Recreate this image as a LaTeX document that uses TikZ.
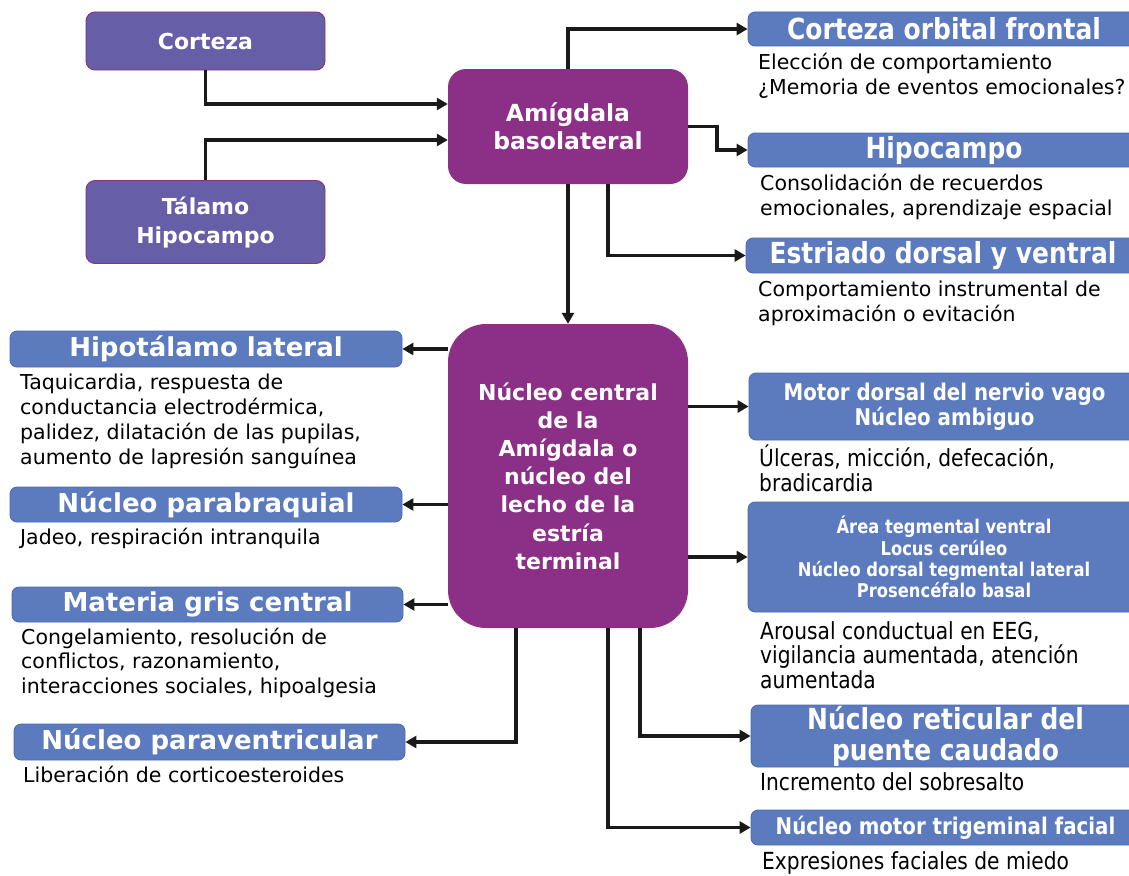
\documentclass[tikz,border=0pt]{standalone}
\usepackage{fontspec}
\setmainfont{DejaVu Sans}
\newfontfamily\condf[FakeStretch=0.86]{DejaVu Sans}
\usetikzlibrary{arrows.meta}
\definecolor{pblue}{RGB}{103,94,168}
\definecolor{pedge}{RGB}{135,50,130}
\definecolor{purp}{RGB}{139,47,135}
\definecolor{bblue}{RGB}{92,123,191}
\definecolor{bedge}{RGB}{74,104,174}
\definecolor{arrowc}{RGB}{25,25,25}
\tikzset{
 arr/.style={line width=3.2pt, draw=arrowc, -{Triangle[length=11pt,width=12pt]}},
 pbox/.style={draw=pedge, line width=0.9pt, fill=pblue, rounded corners=9pt, text=white,
   font=\fontsize{22}{29}\selectfont\bfseries, align=center, inner sep=0pt},
 bigp/.style={fill=purp, draw=none, text=white, align=center, inner sep=0pt},
 bbox/.style={fill=bblue, draw=bedge, line width=0.8pt, rounded corners=7pt, text=white,
   align=center, inner sep=0pt},
 ltitle/.style={bbox, font=\fontsize{26}{30}\selectfont\bfseries},
 rtitle/.style={bbox, font=\condf\fontsize{29}{31}\selectfont\bfseries},
 desc/.style={anchor=base west, align=left, inner sep=0pt, text=black,
   font=\fontsize{20.5}{24.7}\selectfont},
 cdesc/.style={desc, font=\condf\fontsize{23.5}{24.7}\selectfont},
}
\begin{document}
\begin{tikzpicture}[x=1pt,y=-1pt]
\useasboundingbox (0,0) rectangle (1129,875);
\clip (0,0) rectangle (1129,875);
% left purple inputs
\node[pbox, minimum width=239pt, minimum height=58pt] (cort) at (205.5,41) {Corteza};
\node[pbox, minimum width=239pt, minimum height=83pt] (tal) at (205.5,222) {Tálamo\\Hipocampo};
% central purple boxes
\node[bigp, rounded corners=18pt, minimum width=240pt, minimum height=115pt,
  font=\fontsize{23.5}{28}\selectfont\bfseries] (amig) at (568,126.5) {Amígdala\\basolateral};
\node[bigp, rounded corners=38pt, minimum width=240pt, minimum height=304pt,
  font=\fontsize{22}{28.2}\selectfont\bfseries] (cen) at (568,476)
  {Núcleo central\\de la\\Amígdala o\\núcleo del\\lecho de la\\estría\\terminal};
% right top boxes
\node[rtitle, minimum width=392pt, minimum height=34pt] (cof) at (944,29) {Corteza orbital frontal};
\node[rtitle, minimum width=392pt, minimum height=34pt] (hip) at (944,150) {Hipocampo};
\node[rtitle, minimum width=394pt, minimum height=35pt] (est) at (943,255.5) {Estriado dorsal y ventral};
% left output boxes
\node[ltitle, minimum width=392pt, minimum height=36pt] (hl) at (206,349) {Hipotálamo lateral};
\node[ltitle, minimum width=392pt, minimum height=35pt] (pb) at (206,504.5) {Núcleo parabraquial};
\node[ltitle, minimum width=391pt, minimum height=35pt] (mg) at (207.5,604.5) {Materia gris central};
\node[ltitle, minimum width=391pt, minimum height=36pt] (pv) at (209.5,742) {Núcleo paraventricular};
% right output boxes
\node[bbox, minimum width=391pt, minimum height=67pt,
  font=\condf\fontsize{23}{25}\selectfont\bfseries] (mot) at (944.5,406.5)
  {Motor dorsal del nervio vago\\Núcleo ambiguo};
\node[bbox, minimum width=392pt, minimum height=110pt,
  font=\condf\fontsize{19}{21.3}\selectfont\bfseries] (atv) at (944,557)
  {Área tegmental ventral\\Locus cerúleo\\Núcleo dorsal tegmental lateral\\Prosencéfalo basal};
\node[rtitle, minimum width=389pt, minimum height=62pt] (ret) at (945.5,736)
  {Núcleo reticular del\\puente caudado};
\node[bbox, minimum width=389pt, minimum height=35pt,
  font=\condf\fontsize{23}{26}\selectfont\bfseries] (trig) at (945.5,827.5)
  {Núcleo motor trigeminal facial};
% descriptions (base = baseline of last line)
\node[desc] (d1) at (758,94) {Elección de comportamiento\\¿Memoria de eventos emocionales?};
\node[desc] (d2) at (760,215.5) {Consolidación de recuerdos\\emocionales, aprendizaje espacial};
\node[desc] (d3) at (758,321.5) {Comportamiento instrumental de\\aproximación o evitación};
\node[desc] (d4) at (20,464) {Taquicardia, respuesta de\\conductancia electrodérmica,\\palidez, dilatación de las pupilas,\\aumento de lapresión sanguínea};
\node[desc] (d5) at (20,544) {Jadeo, respiración intranquila};
\node[desc] (d6) at (21,693.5) {Congelamiento, resolución de\\conflictos, razonamiento,\\interacciones sociales, hipoalgesia};
\node[desc] (d7) at (23,782) {Liberación de corticoesteroides};
\node[cdesc] (d8) at (759,491.5) {Úlceras, micción, defecación,\\bradicardia};
\node[cdesc] (d9) at (760,688.5) {Arousal conductual en EEG,\\vigilancia aumentada, atención\\aumentada};
\node[cdesc] (d10) at (760,790) {Incremento del sobresalto};
\node[cdesc] (d11) at (762,869) {Expresiones faciales de miedo};
% connectors
\draw[arr] (cort.south) |- (amig.west |- 0,104);
\draw[arr] (tal.north) |- (amig.west |- 0,140);
\draw[arr] (amig.north) |- (cof.west);
\draw[arr] (amig.east) -- (717,126.5) |- (hip.west);
\draw[arr] (amig.south -| 608,0) |- (est.west);
\draw[arr] (amig.south) -- (cen.north);
\draw[arr] (cen.west |- hl.east) -- (hl.east);
\draw[arr] (cen.west |- pb.east) -- (pb.east);
\draw[arr] (cen.west |- mg.east) -- (mg.east);
\draw[arr] (cen.south -| 516,0) |- (pv.east);
\draw[arr] (cen.east |- mot.west) -- (mot.west);
\draw[arr] (cen.east |- atv.west) -- (atv.west);
\draw[arr] (cen.south -| 640,0) |- (ret.west);
\draw[arr] (cen.south -| 608,0) |- (trig.west);
\end{tikzpicture}
\end{document}
